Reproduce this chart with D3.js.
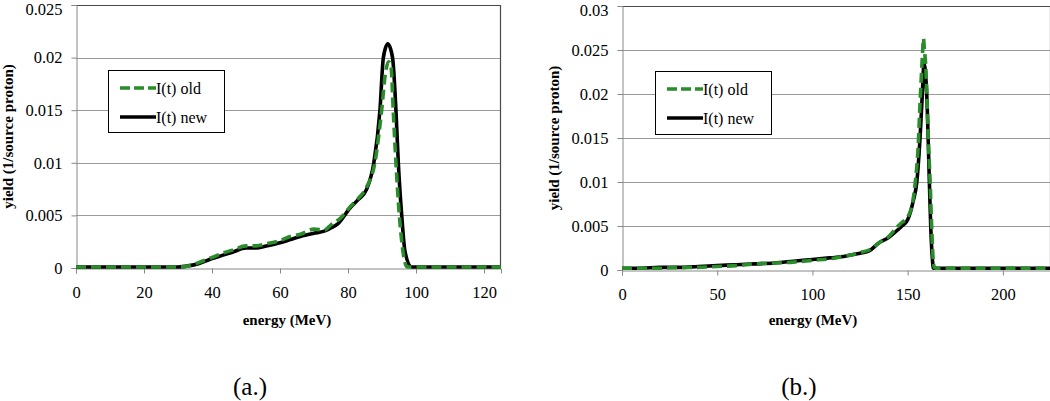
<!DOCTYPE html>
<html>
<head>
<meta charset="utf-8">
<script src="https://cdn.jsdelivr.net/npm/d3@7"></script>
<style>
  html, body { margin: 0; padding: 0; background: #fff; }
  svg { display: block; }
  svg text { font-family: "Liberation Serif", "Times New Roman", serif; fill: #000; }
</style>
</head>
<body>
<svg id="chart" width="1050" height="401"></svg>
<script>
// ---------- Data ----------
const seriesNames = ["I(t) old", "I(t) new"];

// Panel (a.)
const energyOldA = [0, 5, 10, 15, 20, 25, 30, 33, 36, 40, 43, 46, 50, 53, 56, 60, 63, 66, 70, 73, 75, 78, 80.6, 83, 85.5, 87.9, 89.9, 91, 92, 92.7, 93.3, 94.1, 95.1, 96.2, 97.4, 100, 105, 110, 115, 120, 125];
const oldA =       [0.0001, 0.0001, 0.0001, 0.0001, 0.0001, 0.0001, 0.0001, 0.0002, 0.0005, 0.0010, 0.0014, 0.0017, 0.0021, 0.0021, 0.0023, 0.0026, 0.0030, 0.0032, 0.0037, 0.0036, 0.0041, 0.0048, 0.0058, 0.0066, 0.0077, 0.0100, 0.0150, 0.0185, 0.0196, 0.0190, 0.0150, 0.0100, 0.0050, 0.0015, 0.0001, 0.0001, 0.0001, 0.0001, 0.0001, 0.0001, 0.0001];
const energyNewA = [0, 5, 10, 15, 20, 25, 30, 33, 36, 40, 43, 46, 50, 53, 56, 60, 63, 66, 70, 73, 75, 77, 80.6, 83, 85.5, 87.6, 89.4, 90.4, 91.7, 93.1, 94.1, 94.8, 95.8, 96.8, 98.7, 100, 105, 110, 115, 120, 125];
const newA =       [0.0001, 0.0001, 0.0001, 0.0001, 0.0001, 0.0001, 0.0001, 0.0002, 0.0004, 0.0009, 0.0012, 0.0015, 0.0019, 0.0019, 0.0021, 0.0024, 0.0027, 0.0030, 0.0033, 0.0035, 0.0038, 0.0042, 0.0057, 0.0065, 0.0075, 0.0100, 0.0150, 0.0200, 0.0213, 0.0200, 0.0150, 0.0100, 0.0050, 0.0015, 0.0001, 0.0001, 0.0001, 0.0001, 0.0001, 0.0001, 0.0001];
const yTicksA = ["0", "0.005", "0.01", "0.015", "0.02", "0.025"];
const xTicksA = ["0", "20", "40", "60", "80", "100", "120"];

// Panel (b.)
const energyOldB = [0, 10, 20, 30, 40, 50, 60, 70, 80, 90, 100, 110, 115, 120, 125, 130, 135, 140, 145, 147, 150, 153, 154, 155.5, 156.5, 157.3, 157.8, 158.3, 158.8, 159.4, 160, 160.8, 161.8, 162.6, 163.3, 164, 165, 170, 180, 190, 200, 210, 225];
const oldB =       [0.0002, 0.0002, 0.0002, 0.0003, 0.0003, 0.0004, 0.0005, 0.0007, 0.0008, 0.0009, 0.0011, 0.0013, 0.0015, 0.0017, 0.0020, 0.0023, 0.0031, 0.0038, 0.0050, 0.0054, 0.0060, 0.0082, 0.0100, 0.0140, 0.0190, 0.0225, 0.0246, 0.0263, 0.0250, 0.0235, 0.0205, 0.0150, 0.0100, 0.0050, 0.0015, 0.0003, 0.0002, 0.0002, 0.0002, 0.0002, 0.0002, 0.0002, 0.0002];
const energyNewB = [0, 10, 20, 30, 40, 50, 60, 70, 80, 90, 100, 110, 115, 120, 125, 130, 135, 140, 145, 147, 150, 153, 154.8, 156.5, 157.7, 158.6, 160, 161.4, 162.1, 163, 163.5, 165, 170, 180, 190, 200, 210, 225];
const newB =       [0.0002, 0.0002, 0.0003, 0.0003, 0.0004, 0.0005, 0.0006, 0.0007, 0.0008, 0.0010, 0.0012, 0.0014, 0.0015, 0.0017, 0.0019, 0.0022, 0.0031, 0.0037, 0.0046, 0.0050, 0.0057, 0.0079, 0.0100, 0.0150, 0.0200, 0.0235, 0.0200, 0.0100, 0.0050, 0.0012, 0.0002, 0.0002, 0.0002, 0.0002, 0.0002, 0.0002, 0.0002, 0.0002];
const yTicksB = ["0", "0.005", "0.01", "0.015", "0.02", "0.025", "0.03"];
const xTicksB = ["0", "50", "100", "150", "200"];

const xTitle = "energy (MeV)";
const yTitle = "yield (1/source proton)";
const panelLabels = ["(a.)", "(b.)"];

// ---------- Drawing ----------
const FONT = "'Liberation Serif', 'Times New Roman', serif";
const svg = d3.select("#chart");
svg.append("rect").attr("width", 1050).attr("height", 401).attr("fill", "#fff");

const GREEN = "#2a8c2a";

function drawPanel(cfg) {
  const g = svg.append("g");
  const x = d3.scaleLinear().domain([0, cfg.xMax]).range([cfg.left, cfg.right]);
  const y = d3.scaleLinear().domain([0, cfg.yMax]).range([cfg.bottom, cfg.top]);
  const yVals = cfg.yTicks.map(Number);
  const xVals = cfg.xTicks.map(Number);

  // gridlines
  g.append("g").selectAll("line").data(yVals.filter(v => v > 0 && v < cfg.yMax))
    .join("line")
    .attr("x1", cfg.left).attr("x2", cfg.right)
    .attr("y1", d => Math.round(y(d)) + 0.5).attr("y2", d => Math.round(y(d)) + 0.5)
    .attr("stroke", "#9a9a9a").attr("stroke-width", 1);

  // frame: top & right darker
  g.append("line").attr("x1", cfg.left).attr("x2", cfg.right)
    .attr("y1", Math.round(y(cfg.yMax)) + 0.5).attr("y2", Math.round(y(cfg.yMax)) + 0.5)
    .attr("stroke", "#4a4a4a").attr("stroke-width", 1.2);
  g.append("line").attr("x1", Math.round(cfg.right) - 0.5).attr("x2", Math.round(cfg.right) - 0.5)
    .attr("y1", cfg.top).attr("y2", cfg.bottom)
    .attr("stroke", "#4a4a4a").attr("stroke-width", 1.2);

  // Y axis
  const yAxis = d3.axisLeft(y).tickValues(yVals).tickSize(5).tickPadding(9)
    .tickFormat((d, i) => cfg.yTicks[i]);
  const ya = g.append("g").attr("transform", `translate(${Math.round(cfg.left) + 0.5},0)`).call(yAxis);
  ya.attr("font-family", null);
  ya.select(".domain").attr("stroke", "#888");
  ya.selectAll(".tick line").attr("stroke", "#888");
  ya.selectAll("text").style("font-family", FONT).style("font-size", "16.5px")
    .attr("dy", (d, i) => i === yVals.length - 1 ? "0.6em" : "0.32em");

  // X axis
  const xAxis = d3.axisBottom(x).tickValues(xVals).tickSize(5).tickPadding(13)
    .tickFormat((d, i) => cfg.xTicks[i]);
  const xa = g.append("g").attr("transform", `translate(0,${Math.round(cfg.bottom) + 0.5})`).call(xAxis);
  xa.attr("font-family", null);
  xa.select(".domain").attr("stroke", "#888");
  xa.selectAll(".tick line").attr("stroke", "#888");
  xa.selectAll("text").style("font-family", FONT).style("font-size", "16.5px");

  const line = d3.line().x(d => x(d[0])).y(d => y(d[1])).curve(d3.curveMonotoneX);

  const clipId = "clip" + cfg.id;
  svg.append("clipPath").attr("id", clipId).append("rect")
    .attr("x", cfg.left).attr("y", cfg.top - 4).attr("width", cfg.right - cfg.left).attr("height", cfg.bottom - cfg.top + 8);

  const plot = g.append("g").attr("clip-path", `url(#${clipId})`);
  plot.append("path").datum(d3.zip(cfg.newE, cfg.newV)).attr("d", line)
    .attr("fill", "none").attr("stroke", "#000").attr("stroke-width", 3.6)
    .attr("stroke-linejoin", "round").attr("stroke-linecap", "round");
  plot.append("path").datum(d3.zip(cfg.oldE, cfg.oldV)).attr("d", line)
    .attr("fill", "none").attr("stroke", GREEN).attr("stroke-width", 3.6)
    .attr("stroke-dasharray", "10,5").attr("stroke-linejoin", "round");

  // legend
  const L = cfg.legend;
  g.append("rect").attr("x", L.x + 0.5).attr("y", L.y + 0.5).attr("width", L.w).attr("height", L.h)
    .attr("fill", "#fff").attr("stroke", "#000").attr("stroke-width", 1);
  const items = [
    { name: seriesNames[0], color: GREEN, dash: "10,4", dy: 18 },
    { name: seriesNames[1], color: "#000", dash: null, dy: 47 }
  ];
  items.forEach(it => {
    const ly = L.y + it.dy;
    g.append("line").attr("x1", L.x + 12).attr("x2", L.x + 48).attr("y1", ly).attr("y2", ly)
      .attr("stroke", it.color).attr("stroke-width", 3.6)
      .attr("stroke-dasharray", it.dash);
    g.append("text").attr("x", L.x + 48).attr("y", ly + 5.5).style("font-size", "16px").text(it.name);
  });

  // titles
  g.append("text").attr("x", cfg.xTitleX).attr("y", 325).attr("text-anchor", "middle")
    .style("font-size", "15px").style("font-weight", "bold").text(xTitle);
  g.append("text").attr("transform", `translate(${cfg.yTitleX},${(cfg.top + cfg.bottom) / 2}) rotate(-90)`)
    .attr("text-anchor", "middle").style("font-size", "15px").style("font-weight", "bold").text(yTitle);
  g.append("text").attr("x", cfg.labelX).attr("y", 395).attr("text-anchor", "middle")
    .style("font-size", "25px").text(cfg.label);
}

drawPanel({
  id: "a", xMax: 125, yMax: 0.025, left: 76, right: 501, top: 5, bottom: 268,
  yTicks: yTicksA, xTicks: xTicksA,
  oldE: energyOldA, oldV: oldA, newE: energyNewA, newV: newA,
  legend: { x: 108, y: 70, w: 116, h: 62 },
  xTitleX: 287, yTitleX: 13, labelX: 250, label: panelLabels[0]
});

drawPanel({
  id: "b", xMax: 225, yMax: 0.03, left: 622, right: 1050.5, top: 6, bottom: 270,
  yTicks: yTicksB, xTicks: xTicksB,
  oldE: energyOldB, oldV: oldB, newE: energyNewB, newV: newB,
  legend: { x: 655, y: 71, w: 116, h: 63 },
  xTitleX: 813, yTitleX: 559, labelX: 799, label: panelLabels[1]
});
</script>
</body>
</html>
